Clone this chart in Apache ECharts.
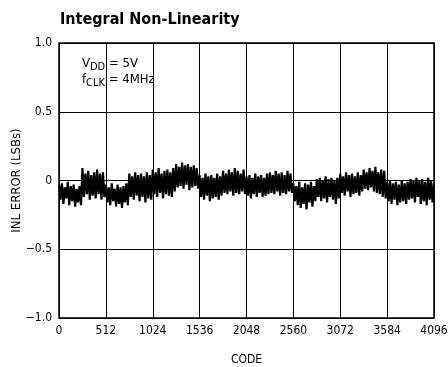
<!DOCTYPE html>
<html>
<head>
<meta charset="utf-8">
<script src="https://cdn.jsdelivr.net/npm/echarts@6/dist/echarts.min.js"></script>
<style>
html,body{margin:0;padding:0;background:#fff;}
#chart{width:448px;height:367px;}
</style>
</head>
<body>
<div id="chart"></div>
<script>
// Title / labels
var chartTitle = "Integral Non-Linearity";
var xAxisName = "CODE";
var yAxisName = "INL ERROR (LSBs)";
var xTicks = [0, 512, 1024, 1536, 2048, 2560, 3072, 3584, 4096];
var xTickLabels = ["0", "512", "1024", "1536", "2048", "2560", "3072", "3584", "4096"];
var yTicks = [-1.0, -0.5, 0, 0.5, 1.0];
var yTickLabels = ["\u22121.0", "\u22120.5", "0", "0.5", "1.0"];
// sampling grid: one sample every 16 codes
var codeStep = 16;
// INL error (LSBs), one value per 16 codes
var inlValues = [
  // 0-255
  -0.03,-0.14,-0.02,-0.17,-0.05,-0.13,-0.01,-0.18,-0.04,-0.15,-0.03,-0.19,-0.06,-0.16,-0.04,-0.18,
  // 256-511
  0.09,-0.12,0.05,-0.10,0.07,-0.14,0.04,-0.11,0.06,-0.13,0.08,-0.10,0.05,-0.14,0.06,-0.12,
  // 512-767
  -0.03,-0.16,-0.05,-0.18,-0.02,-0.15,-0.06,-0.19,-0.03,-0.17,-0.05,-0.20,-0.04,-0.16,-0.02,-0.18,
  // 768-1023
  0.05,-0.12,0.03,-0.14,0.06,-0.11,0.04,-0.15,0.05,-0.12,0.03,-0.16,0.06,-0.13,0.04,-0.14,
  // 1024-1279
  0.08,-0.10,0.06,-0.12,0.09,-0.09,0.05,-0.13,0.07,-0.10,0.08,-0.11,0.06,-0.12,0.09,-0.08,
  // 1280-1535
  0.12,-0.05,0.10,-0.04,0.13,-0.06,0.11,-0.03,0.12,-0.07,0.10,-0.05,0.11,-0.04,0.09,-0.06,
  // 1536-1791
  0.04,-0.12,0.02,-0.14,0.05,-0.11,0.03,-0.15,0.04,-0.13,0.02,-0.12,0.05,-0.14,0.03,-0.11,
  // 1792-2047
  0.07,-0.09,0.05,-0.10,0.08,-0.08,0.06,-0.11,0.09,-0.09,0.07,-0.10,0.05,-0.08,0.08,-0.10,
  // 2048-2303
  0.03,-0.11,0.04,-0.13,0.02,-0.10,0.05,-0.12,0.03,-0.09,0.04,-0.12,0.02,-0.11,0.05,-0.10,
  // 2304-2559
  0.06,-0.09,0.04,-0.10,0.07,-0.08,0.05,-0.11,0.06,-0.09,0.04,-0.10,0.07,-0.08,0.05,-0.09,
  // 2560-2815
  -0.02,-0.15,-0.04,-0.18,-0.01,-0.20,-0.05,-0.17,-0.02,-0.21,-0.03,-0.16,-0.01,-0.19,-0.04,-0.15,
  // 2816-3071
  0.01,-0.12,0.02,-0.15,0.00,-0.13,0.03,-0.16,0.01,-0.12,0.02,-0.14,0.00,-0.17,0.02,-0.13,
  // 3072-3327
  0.05,-0.09,0.03,-0.11,0.06,-0.08,0.04,-0.12,0.05,-0.10,0.03,-0.09,0.06,-0.11,0.04,-0.08,
  // 3328-3583
  0.08,-0.06,0.06,-0.07,0.09,-0.05,0.07,-0.08,0.10,-0.09,0.06,-0.10,0.08,-0.12,0.07,-0.13,
  // 3584-3839
  -0.01,-0.15,0.00,-0.17,-0.02,-0.14,-0.01,-0.18,-0.03,-0.16,0.00,-0.15,-0.02,-0.17,-0.01,-0.14,
  // 3840-4095
  0.01,-0.13,0.00,-0.16,0.02,-0.12,0.00,-0.17,0.01,-0.15,-0.01,-0.18,0.02,-0.14,0.00,-0.16,
  // 4096
  -0.02
];

var seriesData = inlValues.map(function (v, i) { return [i * codeStep, v]; });
var narrow = "'DejaVu Sans Condensed', 'Liberation Sans Narrow', 'Liberation Sans', Arial, sans-serif";

var chart = echarts.init(document.getElementById('chart'), null, {renderer: 'canvas'});
chart.setOption({
  animation: false,
  backgroundColor: '#fff',
  title: {
    text: chartTitle,
    left: 55, top: 7,
    textStyle: {fontFamily: narrow, fontWeight: 'bold', fontSize: 16, color: '#000'}
  },
  grid: {left: 59, right: 14, top: 43, bottom: 49, containLabel: false, outerBoundsMode: 'none',
    show: true, borderColor: '#000', borderWidth: 1.5, backgroundColor: 'transparent'},
  xAxis: {
    type: 'value', min: 0, max: 4096, interval: 512,
    name: xAxisName, nameLocation: 'middle', nameGap: 36,
    nameTextStyle: {fontFamily: narrow, fontSize: 12, color: '#000'},
    axisLine: {show: false}, axisTick: {show: false},
    axisLabel: {fontFamily: narrow, fontSize: 12, color: '#000', margin: 7, showMaxLabel: true, showMinLabel: true, hideOverlap: false,
      formatter: function (v) { var i = xTicks.indexOf(v); return i >= 0 ? xTickLabels[i] : ''; }},
    splitLine: {show: true, lineStyle: {color: '#000', width: 1}}
  },
  yAxis: {
    type: 'value', min: -1, max: 1, interval: 0.5,
    name: yAxisName, nameLocation: 'middle', nameGap: 36, nameMoveOverlap: false,
    nameTextStyle: {fontFamily: narrow, fontSize: 13, color: '#000'},
    axisLine: {show: false}, axisTick: {show: false},
    axisLabel: {fontFamily: narrow, fontSize: 12, color: '#000', margin: 7,
      formatter: function (v) { var i = yTicks.indexOf(v); return i >= 0 ? yTickLabels[i] : ''; }},
    splitLine: {show: true, lineStyle: {color: '#000', width: 1}}
  },
  graphic: [{
    type: 'text', left: 82, top: 57,
    style: {
      text: '{m|V}{s|DD}{m| = 5V}\n{m|f}{s|CLK}{m| = 4MHz}',
      rich: {
        m: {fontFamily: narrow, fontSize: 13, fill: '#000', color: '#000', lineHeight: 16, padding: [0, 0, 3, 0], verticalAlign: 'bottom'},
        s: {fontFamily: narrow, fontSize: 11, fill: '#000', color: '#000', lineHeight: 16, padding: [0, 0, 0, 0], verticalAlign: 'bottom'}
      }
    }
  }],
  series: [{
    type: 'line', data: seriesData, showSymbol: false, symbol: 'none',
    lineStyle: {color: '#000', width: 2.2}, clip: true
  }]
});
</script>
</body>
</html>
